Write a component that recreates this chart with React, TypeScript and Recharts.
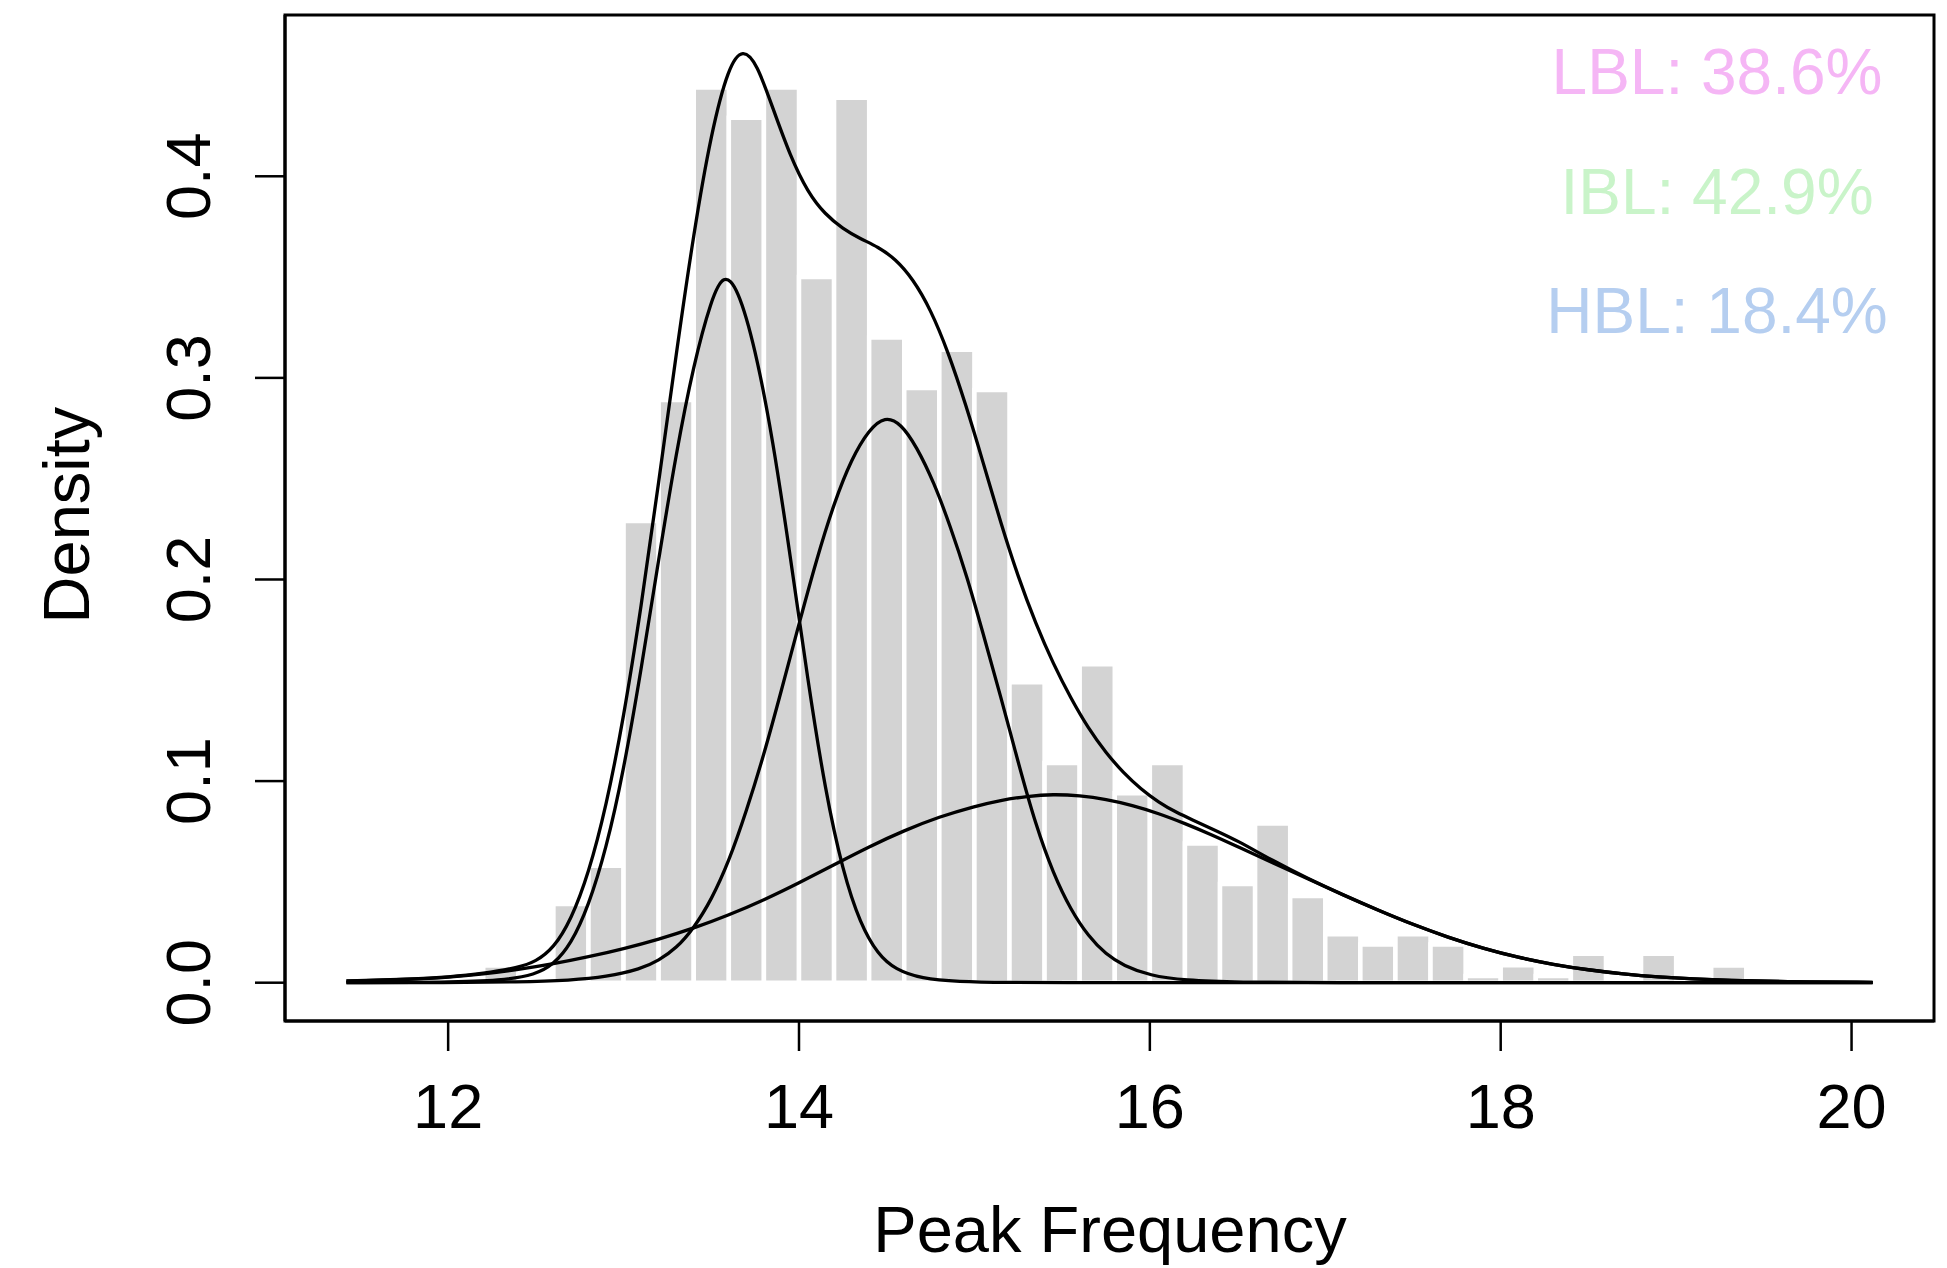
import React from 'react';
import { ComposedChart, Line, XAxis, YAxis, ReferenceArea } from 'recharts';

// ---- data ----
const xTicks = [12, 14, 16, 18, 20];
const yTicks = [0, 0.1, 0.2, 0.3, 0.4];

// histogram bin edges (width 0.2) and densities
const binEdges = [
  12.2, 12.4, 12.6, 12.8, 13.0, 13.2, 13.4, 13.6, 13.8, 14.0, 14.2, 14.4,
  14.6, 14.8, 15.0, 15.2, 15.4, 15.6, 15.8, 16.0, 16.2, 16.4, 16.6, 16.8,
  17.0, 17.2, 17.4, 17.6, 17.8, 18.0, 18.2, 18.4, 18.6, 18.8, 19.0, 19.2, 19.4,
];
const binDensity = [
  0.0085, 0, 0.039, 0.058, 0.229, 0.289, 0.444, 0.429, 0.444, 0.35, 0.439, 0.32,
  0.295, 0.314, 0.294, 0.149, 0.109, 0.158, 0.094, 0.109, 0.069, 0.049, 0.079, 0.043,
  0.024, 0.019, 0.024, 0.019, 0.0033, 0.0087, 0.0033, 0.0143, 0, 0.0143, 0, 0.0085,
];

// overall mixture density
const totalCurve: [number, number][] = [
  [11.42, 0.0009], [11.8, 0.0017], [12.0, 0.0028], [12.2, 0.0045], [12.4, 0.0075],
  [12.5, 0.0105], [12.6, 0.017], [12.7, 0.031], [12.8, 0.054], [12.9, 0.087],
  [13.0, 0.131], [13.1, 0.186], [13.2, 0.248], [13.3, 0.312], [13.4, 0.372],
  [13.5, 0.422], [13.6, 0.455], [13.68, 0.4635], [13.76, 0.456], [13.85, 0.434],
  [13.95, 0.41], [14.05, 0.392], [14.15, 0.381], [14.25, 0.374], [14.35, 0.369],
  [14.45, 0.365], [14.55, 0.359], [14.65, 0.349], [14.75, 0.334], [14.85, 0.313],
  [14.95, 0.287], [15.05, 0.258], [15.15, 0.228], [15.25, 0.201], [15.35, 0.178],
  [15.45, 0.158], [15.55, 0.141], [15.65, 0.126], [15.75, 0.114], [15.85, 0.104],
  [15.95, 0.096], [16.05, 0.0895], [16.15, 0.0845], [16.25, 0.0805], [16.35, 0.0765],
  [16.5, 0.0705], [16.7, 0.0605], [16.9, 0.0517], [17.1, 0.0436], [17.3, 0.036],
  [17.5, 0.0288], [17.7, 0.0225], [17.9, 0.017], [18.1, 0.0125], [18.3, 0.009],
  [18.5, 0.0063], [18.7, 0.0043], [18.9, 0.0028], [19.1, 0.0018], [19.3, 0.0011],
  [19.6, 0.0005], [20.12, 0.0002],
];

// LBL component
const lblCurve: [number, number][] = [
  [11.42, 0], [12.0, 0.0002], [12.3, 0.001], [12.5, 0.004], [12.6, 0.009],
  [12.7, 0.019], [12.8, 0.038], [12.9, 0.066], [13.0, 0.105], [13.1, 0.155],
  [13.2, 0.21], [13.3, 0.263], [13.4, 0.307], [13.5, 0.339], [13.57, 0.352],
  [13.65, 0.345], [13.75, 0.315], [13.85, 0.27], [13.95, 0.212], [14.05, 0.15],
  [14.15, 0.095], [14.25, 0.055], [14.35, 0.029], [14.45, 0.014], [14.55, 0.0065],
  [14.7, 0.002], [14.9, 0.0005], [15.2, 0.0001], [15.5, 0], [16.0, 0],
  [17.0, 0], [18.0, 0], [19.0, 0], [20.12, 0],
];

// IBL component
const iblCurve: [number, number][] = [
  [11.42, 0], [12.0, 0], [12.4, 0.0003], [12.7, 0.0012], [12.9, 0.0028],
  [13.1, 0.0068], [13.2, 0.011], [13.3, 0.017], [13.4, 0.027], [13.5, 0.041],
  [13.6, 0.06], [13.7, 0.085], [13.8, 0.113], [13.9, 0.145], [14.0, 0.178],
  [14.1, 0.21], [14.2, 0.238], [14.3, 0.26], [14.4, 0.2745], [14.49, 0.281],
  [14.58, 0.2775], [14.67, 0.266], [14.77, 0.248], [14.86, 0.227], [14.96, 0.201],
  [15.05, 0.173], [15.15, 0.142], [15.25, 0.109], [15.35, 0.078], [15.45, 0.054],
  [15.55, 0.036], [15.65, 0.023], [15.75, 0.014], [15.85, 0.0085], [16.0, 0.0035],
  [16.2, 0.0011], [16.5, 0.0002], [17.0, 0], [18.0, 0], [19.0, 0], [20.12, 0],
];

// HBL component
const hblCurve: [number, number][] = [
  [11.42, 0.0008], [11.8, 0.0017], [12.0, 0.0027], [12.2, 0.0043], [12.4, 0.0065],
  [12.6, 0.0093], [12.8, 0.0128], [13.0, 0.0168], [13.2, 0.0215], [13.4, 0.027],
  [13.6, 0.0335], [13.8, 0.041], [14.0, 0.0495], [14.2, 0.0585], [14.4, 0.0675],
  [14.6, 0.0755], [14.8, 0.0823], [15.0, 0.0875], [15.15, 0.0905], [15.3, 0.0925],
  [15.45, 0.0935], [15.6, 0.0928], [15.75, 0.091], [15.9, 0.088], [16.05, 0.084],
  [16.2, 0.079], [16.35, 0.0735], [16.5, 0.0675], [16.7, 0.0595], [16.9, 0.0515],
  [17.1, 0.0435], [17.3, 0.036], [17.5, 0.0288], [17.7, 0.0225], [17.9, 0.017],
  [18.1, 0.0125], [18.3, 0.009], [18.5, 0.0063], [18.7, 0.0043], [18.9, 0.0028],
  [19.1, 0.0018], [19.3, 0.0011], [19.6, 0.0005], [20.12, 0.0002],
];

const annotationLabels = ['LBL: 38.6%', 'IBL: 42.9%', 'HBL: 18.4%'];
const annotationColors = ['#f5b6f5', '#c9f4c9', '#b5cef0'];

// ---- layout / style ----
const W = 1939;
const H = 1260;
const FONT = '"Liberation Sans", Arial, Helvetica, sans-serif';
const xDomain: [number, number] = [11.07, 20.47];
const yDomain: [number, number] = [-0.019, 0.48];
const PLOT = { left: 277, top: 7, right: 1926, bottom: 1013 };

const toPoints = (c: [number, number][]) => c.map(([x, y]) => ({ x, y }));

const bins = binDensity
  .map((d, i) => ({ x1: binEdges[i], x2: binEdges[i + 1], d }))
  .filter((b) => b.d > 0);

function XTick(props: any) {
  const { x, y, payload } = props;
  return (
    <text x={x} y={y} dy="0.71em" textAnchor="middle" fontSize={63} fontFamily={FONT} fill="#000">
      {String(payload.value)}
    </text>
  );
}

function YTick(props: any) {
  const { x, y, payload } = props;
  return (
    <text
      x={x}
      y={y}
      transform={`rotate(-90 ${x} ${y})`}
      textAnchor="middle"
      fontSize={63}
      fontFamily={FONT}
      fill="#000"
    >
      {Number(payload.value).toFixed(1)}
    </text>
  );
}

const axisLineStyle = { stroke: '#000', strokeWidth: 3 };
const tickLineStyle = { stroke: '#000', strokeWidth: 2.5 };
const curveProps = {
  dataKey: 'y',
  type: 'basis' as const,
  stroke: '#000',
  strokeWidth: 3.3,
  dot: false,
  activeDot: false,
  isAnimationActive: false,
};

export default function App() {
  return (
    <div style={{ position: 'relative', width: W, height: H, background: '#fff' }}>
      <ComposedChart
        width={W}
        height={H}
        margin={{ top: PLOT.top, right: W - PLOT.right, bottom: 0, left: 0 }}
      >
        <XAxis
          type="number"
          dataKey="x"
          domain={xDomain}
          allowDataOverflow
          ticks={xTicks}
          interval={0}
          height={H - PLOT.bottom}
          tickSize={30}
          tickMargin={32}
          axisLine={axisLineStyle}
          tickLine={tickLineStyle}
          tick={<XTick />}
        />
        <YAxis
          type="number"
          domain={yDomain}
          allowDataOverflow
          ticks={yTicks}
          interval={0}
          width={PLOT.left}
          tickSize={30}
          tickMargin={45}
          axisLine={axisLineStyle}
          tickLine={tickLineStyle}
          tick={<YTick />}
        />
        {bins.map((b, i) => (
          <ReferenceArea
            key={i}
            x1={b.x1}
            x2={b.x2}
            y1={0}
            y2={b.d}
            fill="#d3d3d3"
            fillOpacity={1}
            stroke="#ffffff"
            strokeWidth={4.5}
            ifOverflow="visible"
          />
        ))}
        <Line data={toPoints(lblCurve)} {...curveProps} />
        <Line data={toPoints(iblCurve)} {...curveProps} />
        <Line data={toPoints(hblCurve)} {...curveProps} />
        <Line data={toPoints(totalCurve)} {...curveProps} />
      </ComposedChart>
      <svg
        width={W}
        height={H}
        style={{ position: 'absolute', left: 0, top: 0, pointerEvents: 'none' }}
      >
        <rect
          x={PLOT.left}
          y={PLOT.top}
          width={PLOT.right - PLOT.left}
          height={PLOT.bottom - PLOT.top}
          fill="none"
          stroke="#000"
          strokeWidth={3}
        />
        <text
          x={81}
          y={507}
          transform="rotate(-90 81 507)"
          textAnchor="middle"
          fontSize={65}
          fontFamily={FONT}
          fill="#000"
        >
          Density
        </text>
        <text x={1102} y={1244} textAnchor="middle" fontSize={65} fontFamily={FONT} fill="#000">
          Peak Frequency
        </text>
        {annotationLabels.map((t, i) => (
          <text
            key={t}
            x={1709}
            y={86 + i * 119.5}
            textAnchor="middle"
            fontSize={64}
            fontFamily={FONT}
            fill={annotationColors[i]}
          >
            {t}
          </text>
        ))}
      </svg>
    </div>
  );
}
